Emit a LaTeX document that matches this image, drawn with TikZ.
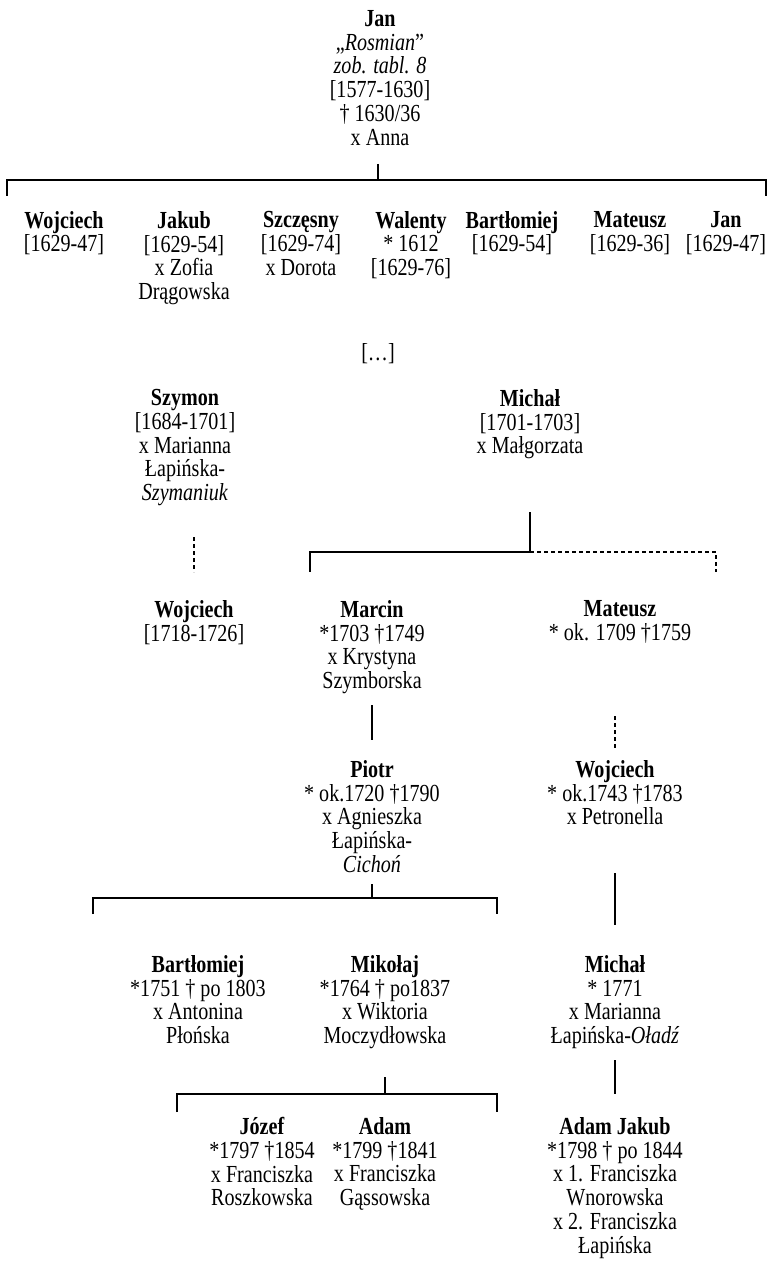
\documentclass[tikz,border=0pt]{standalone}
\usepackage{fontspec}
\setmainfont{Liberation Serif}[FakeStretch=0.82]
\begin{document}
\begin{tikzpicture}[x=1pt,y=-1pt,
  person/.style={align=center, anchor=north, inner sep=0pt,
    font=\fontsize{24.5}{23.8}\selectfont, execute at begin node=\strut},
  link/.style={line width=1.2pt},
  dlink/.style={line width=1.2pt, dash pattern=on 4pt off 3pt}]
\useasboundingbox (0,0) rectangle (768,1273);
% top generation
\node[person] (jan) at (380,10) {\textbf{Jan}\\„\textit{Rosmian}”\\\textit{zob. tabl. 8}\\{[}1577-1630{]}\\† 1630/36\\x Anna};
\node[person] (wojc1) at (64,211) {\textbf{Wojciech}\\{[}1629-47{]}};
\node[person] (jakub) at (184,211) {\textbf{Jakub}\\{[}1629-54{]}\\x Zofia\\Drągowska};
\node[person] (szcz) at (301,211) {\textbf{Szczęsny}\\{[}1629-74{]}\\x Dorota};
\node[person] (walenty) at (411,211) {\textbf{Walenty}\\* 1612\\{[}1629-76{]}};
\node[person] (bart1) at (512,211) {\textbf{Bartłomiej}\\{[}1629-54{]}};
\node[person] (mat1) at (630,211) {\textbf{Mateusz}\\{[}1629-36{]}};
\node[person] (jan2) at (726,211) {\textbf{Jan}\\{[}1629-47{]}};
\node[person] (gap) at (378,343) {{[}…{]}};
% later generations
\node[person] (szymon) at (185,389) {\textbf{Szymon}\\{[}1684-1701{]}\\x Marianna\\Łapińska-\\\textit{Szymaniuk}};
\node[person] (michal1) at (530,389) {\textbf{Michał}\\{[}1701-1703{]}\\x Małgorzata};
\node[person] (wojc2) at (194,600) {\textbf{Wojciech}\\{[}1718-1726{]}};
\node[person] (marcin) at (372,600) {\textbf{Marcin}\\*1703 †1749\\x Krystyna\\Szymborska};
\node[person] (mat2) at (620,600) {\textbf{Mateusz}\\* ok. 1709 †1759};
\node[person] (piotr) at (372,760) {\textbf{Piotr}\\* ok.1720 †1790\\x Agnieszka\\Łapińska-\\\textit{Cichoń}};
\node[person] (wojc3) at (615,760) {\textbf{Wojciech}\\* ok.1743 †1783\\x Petronella};
\node[person] (bart2) at (198,955) {\textbf{Bartłomiej}\\*1751 † po 1803\\x Antonina\\Płońska};
\node[person] (mikolaj) at (385,955) {\textbf{Mikołaj}\\*1764 † po1837\\x Wiktoria\\Moczydłowska};
\node[person] (michal2) at (615,955) {\textbf{Michał}\\* 1771\\x Marianna\\Łapińska-\textit{Oładź}};
\node[person] (jozef) at (262,1117) {\textbf{Józef}\\*1797 †1854\\x Franciszka\\Roszkowska};
\node[person] (adam) at (385,1117) {\textbf{Adam}\\*1799 †1841\\x Franciszka\\Gąssowska};
\node[person] (adamj) at (615,1117) {\textbf{Adam Jakub}\\*1798 † po 1844\\x 1. Franciszka\\Wnorowska\\x 2. Franciszka\\Łapińska};
% junction coordinates
\coordinate (j1a) at (378,164); \coordinate (j1b) at (378,180);
\coordinate (j1l) at (7,196); \coordinate (j1r) at (766,196);
\coordinate (s1) at (194,537); \coordinate (s2) at (194,572);
\coordinate (m1a) at (530,512); \coordinate (m1b) at (530,552);
\coordinate (m1l) at (310,572); \coordinate (m1r) at (716,572);
\coordinate (mc1) at (372,705); \coordinate (mc2) at (372,740);
\coordinate (mt1) at (615,716); \coordinate (mt2) at (615,750);
\coordinate (p1) at (372,884); \coordinate (p2) at (372,898);
\coordinate (pl) at (93,914); \coordinate (pr) at (497,914);
\coordinate (w1) at (615,873); \coordinate (w2) at (615,925);
\coordinate (k1) at (385,1077); \coordinate (k2) at (385,1094);
\coordinate (kl) at (177,1112); \coordinate (kr) at (497,1112);
\coordinate (h1) at (615,1060); \coordinate (h2) at (615,1094);
% connectors
\draw[link] (j1a) -- (j1b);
\draw[link] (j1l) |- (j1b) -| (j1r);
\draw[dlink] (s1) -- (s2);
\draw[link] (m1a) -- (m1b);
\draw[link] (m1b) -| (m1l);
\draw[dlink] (m1b) -| (m1r);
\draw[link] (mc1) -- (mc2);
\draw[dlink] (mt1) -- (mt2);
\draw[link] (p1) -- (p2);
\draw[link] (pl) |- (p2) -| (pr);
\draw[link] (w1) -- (w2);
\draw[link] (k1) -- (k2);
\draw[link] (kl) |- (k2) -| (kr);
\draw[link] (h1) -- (h2);
\end{tikzpicture}
\end{document}
